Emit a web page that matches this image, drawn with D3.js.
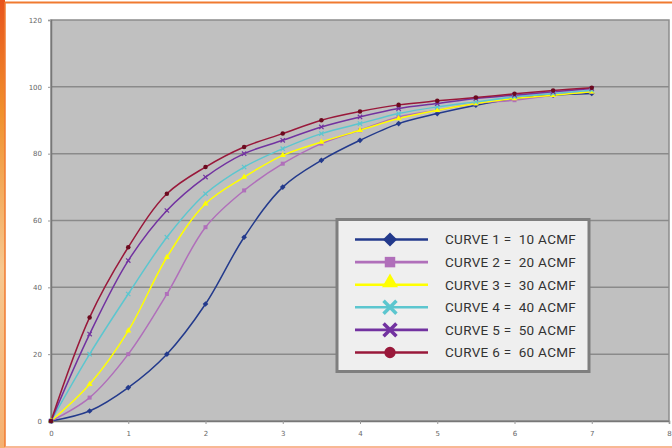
<!DOCTYPE html>
<html lang="en">
<head>
<meta charset="utf-8">
<title>Curves</title>
<script src="https://cdn.jsdelivr.net/npm/d3@7"></script>
<style>
  body { margin: 0; background: #fff; }
  svg { display: block; }
</style>
</head>
<body>
<script>
// Data
var xs = [0, 0.5, 1, 1.5, 2, 2.5, 3, 3.5, 4, 4.5, 5, 5.5, 6, 6.5, 7];
var curve1 = [0, 3, 10, 20, 35, 55, 70, 78, 84, 89, 92, 94.5, 96.5, 97.5, 98];
var curve2 = [0, 7, 20, 38, 58, 69, 77, 83, 87, 91, 93, 95, 96, 97.5, 98.5];
var curve3 = [0, 11, 27, 49, 65, 73, 79.5, 83.5, 87, 90.5, 93, 95, 96.5, 97.5, 98.5];
var curve4 = [0, 20, 38, 55, 68, 76, 81.5, 86, 89, 92, 94, 95.5, 97, 98, 99];
var curve5 = [0, 26, 48, 63, 73, 80, 84, 88, 91, 93.5, 95, 96.5, 97.5, 98.5, 99.5];
var curve6 = [0, 31, 52, 68, 76, 82, 86, 90, 92.6, 94.6, 95.8, 96.8, 97.9, 98.9, 99.7];
var names = ["CURVE 1 =  10 ACMF", "CURVE 2 =  20 ACMF", "CURVE 3 =  30 ACMF",
             "CURVE 4 =  40 ACMF", "CURVE 5 =  50 ACMF", "CURVE 6 =  60 ACMF"];
var colors = ["#233a8c", "#b06fba", "#ffff00", "#5cc6cf", "#7232a0", "#99183a"];
var shapes = ["diamond", "square", "triangle", "x", "x", "circle"];
var yTicks = [0, 20, 40, 60, 80, 100, 120];
var xTicks = [0, 1, 2, 3, 4, 5, 6, 7, 8];

var series = [curve1, curve2, curve3, curve4, curve5, curve6];

var W = 672, H = 448;
var plot = {left: 51, top: 20, right: 669, bottom: 421};

var svg = d3.select("body").append("svg")
            .attr("width", W)
            .attr("height", H);

// orange frame
var defs = svg.append("defs");
var grad = defs.append("linearGradient").attr("id", "lg")
               .attr("x1", 0).attr("y1", 0).attr("x2", 0).attr("y2", 1);
grad.append("stop").attr("offset", "0%").attr("stop-color", "#e8541c");
grad.append("stop").attr("offset", "25%").attr("stop-color", "#f0902c");
grad.append("stop").attr("offset", "60%").attr("stop-color", "#f6c890");
grad.append("stop").attr("offset", "100%").attr("stop-color", "#f5b070");
svg.append("rect").attr("x", 0).attr("y", 0).attr("width", 5).attr("height", H)
   .attr("fill", "url(#lg)");
svg.append("line").attr("x1", 5).attr("x2", 5).attr("y1", 2).attr("y2", 447)
   .attr("stroke", "#f07a30").attr("stroke-width", 1.5);
svg.append("line").attr("x1", 5).attr("x2", W).attr("y1", 2.5).attr("y2", 2.5)
   .attr("stroke", "#f07a30").attr("stroke-width", 2);
svg.append("line").attr("x1", 5).attr("x2", W).attr("y1", 447).attr("y2", 447)
   .attr("stroke", "#f6a070").attr("stroke-width", 1.5);

var x = d3.scaleLinear().domain([0, 8]).range([plot.left, plot.right]);
var y = d3.scaleLinear().domain([0, 120]).range([plot.bottom, plot.top]);

// plot background
svg.append("rect")
   .attr("x", plot.left).attr("y", plot.top)
   .attr("width", plot.right - plot.left).attr("height", plot.bottom - plot.top)
   .attr("fill", "#c0c0c0").attr("stroke", "#8c8c8c").attr("stroke-width", 1.5);

// gridlines
svg.append("g").selectAll("line")
   .data(yTicks.slice(1, -1))
   .enter().append("line")
   .attr("x1", plot.left).attr("x2", plot.right)
   .attr("y1", function(d) { return y(d); })
   .attr("y2", function(d) { return y(d); })
   .attr("stroke", "#8a8a8a").attr("stroke-width", 1.5);

// axes
var yAxis = svg.append("g")
   .attr("transform", "translate(" + plot.left + ",0)")
   .call(d3.axisLeft(y).tickValues(yTicks).tickSize(3).tickPadding(6));
var xAxis = svg.append("g")
   .attr("transform", "translate(0," + plot.bottom + ")")
   .call(d3.axisBottom(x).tickValues(xTicks).tickSize(3).tickPadding(7));
[yAxis, xAxis].forEach(function(a) {
  a.select(".domain").attr("stroke", "#777").attr("stroke-width", 1.5);
  a.selectAll(".tick line").attr("stroke", "#999");
  a.selectAll("text").attr("fill", "#666")
   .attr("font-family", "DejaVu Sans, sans-serif").attr("font-size", 7);
});

// curves
var line = d3.line()
             .x(function(d, i) { return x(xs[i]); })
             .y(function(d) { return y(d); })
             .curve(d3.curveCatmullRom.alpha(0.5));

// diamonds are drawn as rotated squares
var symbolFor = function(shape, size) {
  var t = {diamond: d3.symbolSquare, square: d3.symbolSquare,
           triangle: d3.symbolTriangle, x: d3.symbolX, circle: d3.symbolCircle}[shape];
  return d3.symbol().type(t).size(size)();
};
var rot = function(shape) { return shape == "diamond" ? " rotate(45)" : ""; };

series.forEach(function(s, k) {
  svg.append("path")
     .attr("d", line(s))
     .attr("fill", "none")
     .attr("stroke", colors[k])
     .attr("stroke-width", 1.5);
});
series.forEach(function(s, k) {
  var mc = k == 5 ? "#6b0a1e" : colors[k];
  svg.append("g").selectAll("path")
     .data(s)
     .enter().append("path")
     .attr("transform", function(d, i) {
       return "translate(" + x(xs[i]) + "," + y(d) + ")" + rot(shapes[k]);
     })
     .attr("d", symbolFor(shapes[k], shapes[k] == "x" ? 14 : 16))
     .attr("fill", shapes[k] == "x" ? "none" : mc)
     .attr("stroke", shapes[k] == "x" ? mc : "none")
     .attr("stroke-width", 1.2);
});

// legend
var legend = svg.append("g");
legend.append("rect")
      .attr("x", 337).attr("y", 219.5).attr("width", 252).attr("height", 152)
      .attr("fill", "#efefef").attr("stroke", "#7f7f7f").attr("stroke-width", 3);
var rowY = d3.scaleLinear().domain([0, 5]).range([239.5, 352.5]);
names.forEach(function(n, k) {
  var g = legend.append("g").attr("transform", "translate(0," + rowY(k) + ")");
  g.append("line").attr("x1", 355).attr("x2", 428).attr("y1", 0).attr("y2", 0)
   .attr("stroke", colors[k]).attr("stroke-width", 2.6);
  var sz = {diamond: 100, square: 110, triangle: 110, x: 110, circle: 100}[shapes[k]];
  g.append("path")
   .attr("transform", "translate(390," + (shapes[k] == "triangle" ? -2 : 0) + ")" + rot(shapes[k]))
   .attr("d", symbolFor(shapes[k], sz))
   .attr("fill", colors[k])
   .attr("stroke", shapes[k] == "x" ? colors[k] : "none")
   .attr("stroke-width", shapes[k] == "x" ? 3.5 : 0);
  g.append("text")
   .attr("x", 445).attr("y", 0).attr("dy", "0.36em")
   .attr("font-family", "Roboto, sans-serif").attr("font-size", 13.5)
   .attr("letter-spacing", 0.3)
   .attr("fill", "#333")
   .attr("xml:space", "preserve")
   .style("white-space", "pre")
   .text(n);
});
</script>
</body>
</html>
